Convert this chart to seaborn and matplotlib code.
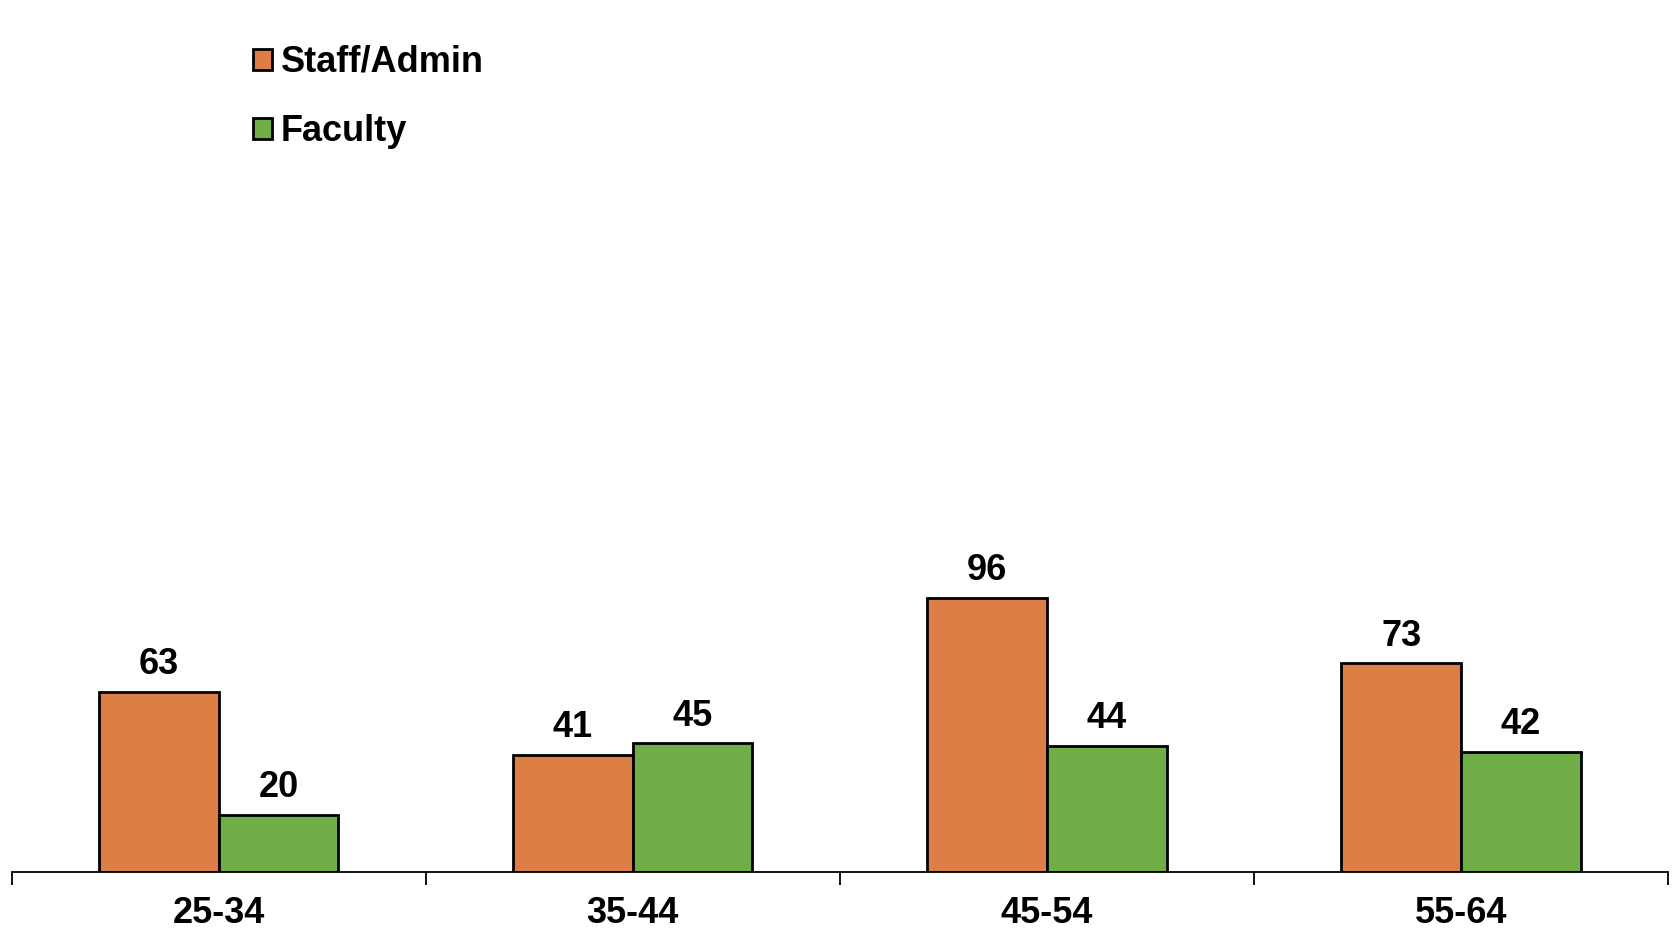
import matplotlib
matplotlib.use("Agg")
import matplotlib.pyplot as plt
import seaborn as sns
import pandas as pd
from matplotlib.patches import Patch

age_groups = ["25-34", "35-44", "45-54", "55-64"]
staff_admin = [63, 41, 96, 73]
faculty = [20, 45, 44, 42]
series_names = ["Staff/Admin", "Faculty"]
series_colors = ["#DD7E47", "#70AD47"]

df = pd.DataFrame({
    "Age": age_groups * 2,
    "Group": [series_names[0]] * len(age_groups) + [series_names[1]] * len(age_groups),
    "Count": staff_admin + faculty,
})

sns.set_style("white")
plt.rcParams["font.family"] = ["Liberation Sans", "DejaVu Sans"]
plt.rcParams["font.weight"] = "bold"
plt.rcParams["text.color"] = "black"
plt.rcParams["xtick.color"] = "black"

FS = 26

fig = plt.figure(figsize=(16.77, 9.32), dpi=100)
ax = fig.add_axes([0.007, 0.0644, 0.9876, 0.9356])

sns.barplot(data=df, x="Age", y="Count", hue="Group", order=age_groups,
            hue_order=series_names, palette=series_colors, saturation=1,
            width=0.578, gap=0, edgecolor="black", linewidth=2.0,
            legend=False, ax=ax)

for container in ax.containers:
    ax.bar_label(container, fmt="%d", padding=7, fontsize=FS,
                 fontweight="bold", color="black")

ax.set_xlim(-0.5, len(age_groups) - 0.5)
ax.set_ylim(0, 305)
ax.set_xlabel("")
ax.set_ylabel("")
ax.set_yticks([])

for side in ["left", "right", "top"]:
    ax.spines[side].set_visible(False)
ax.spines["bottom"].set_color("black")
ax.spines["bottom"].set_linewidth(1.3)

# category labels centred, tick marks at category boundaries
ax.set_xticks(range(len(age_groups)))
ax.set_xticklabels(age_groups, fontsize=FS, fontweight="bold", color="black")
ax.tick_params(axis="x", which="major", length=0, pad=17)
ax.set_xticks([i - 0.5 for i in range(len(age_groups) + 1)], minor=True)
ax.tick_params(axis="x", which="minor", length=9, width=1.3, color="black",
               direction="out", bottom=True)

handles = [Patch(facecolor=c, edgecolor="black", linewidth=2.0) for c in series_colors]
ax.legend(handles, series_names, loc="upper left", bbox_to_anchor=(0.124, 0.99),
          frameon=False, prop={"weight": "bold", "size": FS},
          handlelength=0.52, handleheight=0.52, handletextpad=0.25,
          labelspacing=0.95, borderaxespad=0.6)

fig.savefig("out.png", dpi=100, facecolor="white")
